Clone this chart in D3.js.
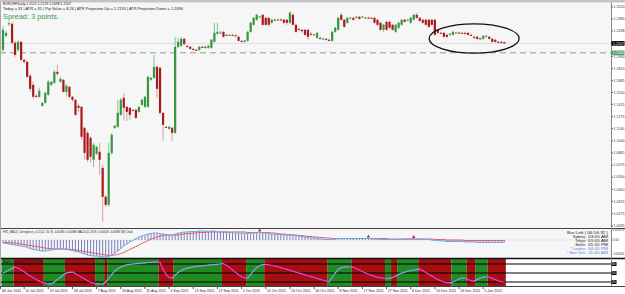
<!DOCTYPE html>
<html>
<head>
<meta charset="utf-8">
<script src="https://cdn.jsdelivr.net/npm/d3@7"></script>
<style>
  body { margin: 0; background: #fff; }
  svg { display: block; font-family: "Liberation Sans", Arial, sans-serif; }
</style>
</head>
<body>
<script>
// EURCHF daily bars, 30 Jun 2011 - 13 Jan 2012  [open, high, low, close]
const candles = [
  [1.2034,1.2306,1.2011,1.2261],[1.2193,1.2250,1.2170,1.2227],[1.2329,1.2352,1.2306,1.2335],[1.2329,1.2352,1.2091,1.2114],
  [1.2114,1.2136,1.1955,1.1977],[1.2034,1.2148,1.2011,1.2125],[1.2125,1.2136,1.1898,1.1921],[1.1921,1.1932,1.1875,1.1898],
  [1.1898,1.1909,1.1716,1.1728],[1.1739,1.1762,1.1557,1.1591],[1.1637,1.1671,1.1478,1.1501],[1.1512,1.1535,1.1489,1.1501],
  [1.1501,1.1603,1.1489,1.1569],[1.1398,1.1444,1.1387,1.1432],[1.1432,1.1557,1.1421,1.1546],[1.1523,1.1694,1.1512,1.1671],
  [1.1637,1.1682,1.1625,1.1671],[1.1659,1.1807,1.1648,1.1784],[1.1784,1.1864,1.1739,1.1762],[1.1671,1.1728,1.1659,1.1705],
  [1.1694,1.1705,1.1546,1.1557],[1.1557,1.1648,1.1512,1.1625],[1.1614,1.1625,1.1478,1.1501],[1.1501,1.1512,1.1444,1.1467],
  [1.1467,1.1478,1.1285,1.1296],[1.1398,1.1421,1.1330,1.1376],[1.1387,1.1398,1.1013,1.1047],[1.1149,1.1160,1.0786,1.0865],
  [1.1092,1.1115,1.0763,1.0786],[1.1035,1.1058,1.0752,1.0820],[1.0786,1.0979,1.0706,1.0956],[1.0854,1.0945,1.0842,1.0933],
  [1.0876,1.0979,1.0615,1.0786],[1.0695,1.0729,1.0082,1.0366],[1.0366,1.0388,1.0252,1.0275],[1.0275,1.0979,1.0252,1.0865],
  [1.0865,1.1092,1.0842,1.1069],[1.1149,1.1183,1.1138,1.1172],[1.1160,1.1467,1.1149,1.1319],[1.1296,1.1489,1.1285,1.1467],
  [1.1489,1.1546,1.1228,1.1376],[1.1387,1.1398,1.1228,1.1330],[1.1376,1.1387,1.1240,1.1296],[1.1353,1.1364,1.1330,1.1342],
  [1.1353,1.1364,1.1251,1.1262],[1.1330,1.1398,1.1319,1.1387],[1.1410,1.1478,1.1398,1.1467],[1.1387,1.1512,1.1376,1.1501],
  [1.1387,1.1739,1.1376,1.1728],[1.1694,1.1728,1.1682,1.1716],[1.1716,1.1977,1.1705,1.1841],[1.1841,1.1852,1.1489,1.1591],
  [1.1830,1.1841,1.1296,1.1319],[1.1319,1.1330,1.1001,1.1183],[1.1160,1.1172,1.1149,1.1155],[1.1138,1.1172,1.1126,1.1160],
  [1.1149,1.1160,1.1001,1.1092],[1.1092,1.2182,1.1081,1.2068],
  [1.2068,1.2170,1.2057,1.2125],[1.2079,1.2182,1.2068,1.2159],[1.2159,1.2170,1.2079,1.2102],[1.2079,1.2091,1.2057,1.2068],
  [1.2068,1.2079,1.2034,1.2045],[1.2045,1.2057,1.2023,1.2034],[1.2034,1.2045,1.2023,1.2028],[1.2034,1.2079,1.2023,1.2068],
  [1.2068,1.2079,1.2057,1.2062],[1.2068,1.2079,1.2045,1.2057],[1.2057,1.2091,1.2045,1.2079],[1.2057,1.2159,1.2045,1.2148],
  [1.2125,1.2341,1.2114,1.2227],[1.2216,1.2341,1.2204,1.2238],
  [1.2227,1.2250,1.2216,1.2230],[1.2238,1.2250,1.2170,1.2182],[1.2204,1.2216,1.2193,1.2200],[1.2200,1.2210,1.2190,1.2204],
  [1.2204,1.2216,1.2193,1.2198],[1.2198,1.2210,1.2182,1.2190],[1.2182,1.2193,1.2125,1.2136],[1.2136,1.2148,1.2114,1.2125],
  [1.2125,1.2148,1.2114,1.2140],[1.2136,1.2250,1.2125,1.2238],[1.2238,1.2352,1.2227,1.2341],[1.2318,1.2409,1.2306,1.2397],
  [1.2375,1.2443,1.2363,1.2431],[1.2409,1.2420,1.2397,1.2412],[1.2431,1.2443,1.2306,1.2318],[1.2397,1.2409,1.2306,1.2318],
  [1.2397,1.2409,1.2295,1.2318],[1.2341,1.2386,1.2329,1.2375],[1.2375,1.2386,1.2363,1.2372],[1.2372,1.2386,1.2363,1.2378],
  [1.2378,1.2390,1.2365,1.2375],[1.2375,1.2386,1.2329,1.2341],[1.2375,1.2386,1.2318,1.2341],[1.2341,1.2477,1.2329,1.2454],
  [1.2431,1.2454,1.2306,1.2318],[1.2318,1.2329,1.2227,1.2238],[1.2272,1.2284,1.2250,1.2265],[1.2261,1.2272,1.2227,1.2245],
  [1.2261,1.2272,1.2193,1.2204],[1.2261,1.2272,1.2148,1.2182],[1.2216,1.2238,1.2193,1.2210],[1.2204,1.2216,1.2193,1.2208],
  [1.2170,1.2238,1.2159,1.2227],[1.2170,1.2182,1.2148,1.2159],[1.2159,1.2170,1.2148,1.2162],[1.2159,1.2170,1.2136,1.2148],
  [1.2148,1.2159,1.2125,1.2136],[1.2136,1.2250,1.2125,1.2238],[1.2238,1.2295,1.2227,1.2284],[1.2261,1.2409,1.2250,1.2397],
  [1.2431,1.2454,1.2363,1.2375],[1.2375,1.2386,1.2284,1.2295],[1.2341,1.2409,1.2329,1.2397],[1.2397,1.2409,1.2386,1.2400],
  [1.2397,1.2409,1.2363,1.2375],[1.2397,1.2420,1.2386,1.2409],[1.2409,1.2420,1.2375,1.2386],[1.2409,1.2420,1.2397,1.2412],
  [1.2397,1.2409,1.2386,1.2400],[1.2400,1.2412,1.2386,1.2397],[1.2397,1.2409,1.2386,1.2395],[1.2397,1.2409,1.2329,1.2341],
  [1.2375,1.2386,1.2306,1.2318],[1.2341,1.2352,1.2250,1.2261],[1.2261,1.2329,1.2238,1.2318],[1.2352,1.2363,1.2250,1.2261],
  [1.2352,1.2363,1.2272,1.2284],[1.2318,1.2329,1.2250,1.2261],[1.2238,1.2329,1.2227,1.2318],[1.2284,1.2352,1.2272,1.2341],
  [1.2318,1.2386,1.2306,1.2375],[1.2375,1.2386,1.2341,1.2352],[1.2372,1.2386,1.2363,1.2375],[1.2341,1.2409,1.2329,1.2397],
  [1.2375,1.2443,1.2363,1.2431],[1.2431,1.2454,1.2386,1.2397],[1.2397,1.2409,1.2352,1.2363],[1.2375,1.2386,1.2329,1.2341],
  [1.2375,1.2386,1.2306,1.2318],[1.2375,1.2386,1.2284,1.2295],[1.2375,1.2386,1.2306,1.2318],[1.2375,1.2386,1.2193,1.2204],
  [1.2261,1.2272,1.2216,1.2227],[1.2227,1.2238,1.2216,1.2224],[1.2227,1.2238,1.2170,1.2182],[1.2204,1.2216,1.2170,1.2182],
  [1.2210,1.2227,1.2193,1.2216],[1.2204,1.2250,1.2193,1.2238],[1.2227,1.2238,1.2216,1.2230],[1.2230,1.2241,1.2216,1.2227],
  [1.2227,1.2238,1.2216,1.2224],[1.2227,1.2238,1.2204,1.2216],[1.2227,1.2238,1.2193,1.2204],[1.2204,1.2216,1.2193,1.2200],
  [1.2182,1.2193,1.2159,1.2170],[1.2182,1.2193,1.2148,1.2159],[1.2165,1.2176,1.2142,1.2155],[1.2159,1.2204,1.2148,1.2193],
  [1.2182,1.2204,1.2170,1.2193],[1.2182,1.2193,1.2148,1.2159],[1.2159,1.2170,1.2114,1.2125],[1.2148,1.2159,1.2114,1.2125],
  [1.2125,1.2136,1.2114,1.2120],[1.2125,1.2136,1.2102,1.2114],[1.2121,1.2129,1.2098,1.2107]
];

// MACD main (histogram + blue line) and signal (red line)
const macdMain = [
  -0.0070,-0.0081,-0.0093,-0.0104,-0.0116,-0.0128,-0.0139,-0.0151,-0.0174,-0.0197,
  -0.0220,-0.0232,-0.0244,-0.0255,-0.0255,-0.0244,-0.0232,-0.0220,-0.0209,-0.0209,
  -0.0209,-0.0220,-0.0232,-0.0244,-0.0267,-0.0278,-0.0302,-0.0325,-0.0348,-0.0360,
  -0.0371,-0.0371,-0.0383,-0.0394,-0.0394,-0.0383,-0.0348,-0.0302,-0.0255,-0.0197,
  -0.0139,-0.0093,-0.0046,-0.0012,0.0035,0.0070,0.0093,0.0116,0.0139,0.0151,
  0.0162,0.0162,0.0151,0.0139,0.0128,0.0116,0.0104,0.0139,0.0162,0.0174,
  0.0186,0.0186,0.0197,0.0197,0.0197,0.0209,0.0209,0.0209,0.0197,0.0209,
  0.0209,0.0186,0.0186,0.0186,0.0186,0.0174,0.0174,0.0162,0.0162,0.0162,
  0.0151,0.0151,0.0162,0.0162,0.0174,0.0174,0.0162,0.0162,0.0151,0.0139,
  0.0139,0.0128,0.0128,0.0116,0.0116,0.0116,0.0116,0.0104,0.0093,0.0081,
  0.0070,0.0058,0.0046,0.0046,0.0035,0.0023,0.0023,0.0012,0.0012,0.0012,
  0.0023,0.0035,0.0035,0.0035,0.0035,0.0035,0.0035,0.0035,0.0035,0.0035,
  0.0035,0.0035,0.0035,0.0023,0.0023,0.0012,0.0012,0.0012,0.0012,0.0012,
  0.0012,0.0012,0.0012,0.0023,0.0023,0.0023,0.0023,0.0023,0.0023,0.0023,
  0.0012,0.0012,0.0000,-0.0012,-0.0012,-0.0023,-0.0023,-0.0035,-0.0035,-0.0035,
  -0.0035,-0.0035,-0.0035,-0.0046,-0.0046,-0.0046,-0.0046,-0.0058,-0.0058,-0.0058,
  -0.0058,-0.0058,-0.0058,-0.0058,-0.0058,-0.0058,-0.0058
];
const macdSignal = [
  -0.0046,-0.0058,-0.0058,-0.0070,-0.0070,-0.0081,-0.0093,-0.0104,-0.0116,-0.0128,
  -0.0139,-0.0151,-0.0162,-0.0174,-0.0186,-0.0197,-0.0197,-0.0209,-0.0209,-0.0209,
  -0.0209,-0.0209,-0.0220,-0.0220,-0.0232,-0.0244,-0.0255,-0.0267,-0.0278,-0.0290,
  -0.0302,-0.0313,-0.0325,-0.0336,-0.0348,-0.0355,-0.0355,-0.0348,-0.0336,-0.0313,
  -0.0290,-0.0255,-0.0220,-0.0186,-0.0151,-0.0116,-0.0081,-0.0046,-0.0012,0.0023,
  0.0046,0.0070,0.0093,0.0104,0.0116,0.0116,0.0116,0.0116,0.0116,0.0128,
  0.0139,0.0151,0.0151,0.0162,0.0162,0.0174,0.0174,0.0174,0.0186,0.0186,
  0.0186,0.0186,0.0186,0.0186,0.0186,0.0186,0.0186,0.0186,0.0186,0.0186,
  0.0186,0.0174,0.0174,0.0174,0.0174,0.0174,0.0174,0.0174,0.0174,0.0162,
  0.0162,0.0151,0.0139,0.0139,0.0128,0.0128,0.0116,0.0116,0.0104,0.0104,
  0.0093,0.0081,0.0081,0.0070,0.0070,0.0058,0.0058,0.0046,0.0046,0.0035,
  0.0035,0.0035,0.0035,0.0035,0.0035,0.0035,0.0035,0.0035,0.0035,0.0035,
  0.0035,0.0035,0.0035,0.0035,0.0035,0.0035,0.0035,0.0035,0.0023,0.0023,
  0.0023,0.0023,0.0023,0.0023,0.0023,0.0023,0.0023,0.0023,0.0023,0.0023,
  0.0023,0.0023,0.0023,0.0012,0.0012,0.0012,0.0012,0.0000,0.0000,0.0000,
  0.0000,0.0000,0.0000,-0.0012,-0.0012,-0.0012,-0.0012,-0.0012,-0.0012,-0.0012,
  -0.0012,-0.0012,-0.0012,-0.0012,-0.0012,-0.0012,-0.0012
];
const divergenceBars = [85, 121, 136];

// lower oscillator (0-100) and its coloured state blocks
const oscValues = [
  50,54,60,66,70,66,60,54,47,40, 34,28,23,19,16,14,14,20,28,36,
  44,50,52,53,48,42,36,30,24,19, 16,14,14,13,20,32,45,56,64,70,
  74,77,79,80,81,82,83,84,85,85, 86,86,85,62,45,35,33,42,52,58,
  63,66,68,70,72,73,74,75,76,77, 78,79,80,81,76,68,60,52,44,38,
  34,33,45,58,68,75,78,79,77,75, 73,71,68,65,62,59,56,53,50,47,
  44,41,38,35,32,29,26,23,20,35, 50,62,68,70,70,70,69,65,60,55,
  50,46,42,39,36,34,33,31,32,35, 40,45,50,53,56,58,60,62,63,58,
  52,46,40,34,28,24,20,18,17,20, 25,30,33,33,28,24,23,28,33,36,
  37,36,32,28,24,21,20
];
const oscLevels = [80, 50, 20];
const bandStarts = [0,4,14,21,31,34,35,52,57,73,81,87,108,116,127,129,131,138,149,154,157,161];
const bandStates = ["up","down","up","down","up","down","up","down","up","down","up",
                    "down","up","down","up","down","up","down","up","down","up","down"];

// axes
const priceTicks = [1.2520,1.2385,1.2248,1.2110,1.1960,1.1820,1.1685,1.1550,1.1415,1.1275,
                    1.1140,1.1000,1.0865,1.0725,1.0590,1.0450,1.0315,1.0175,1.0035];
const dateBars = [-1,7,15,23,31,39,47,55,63,71,79,87,95,103,111,119,127,135,143,151,159];
const dateLabels = ["30 Jun 2011","10 Jul 2011","19 Jul 2011","28 Jul 2011","7 Aug 2011","16 Aug 2011",
  "25 Aug 2011","4 Sep 2011","13 Sep 2011","22 Sep 2011","2 Oct 2011","11 Oct 2011","20 Oct 2011",
  "30 Oct 2011","8 Nov 2011","17 Nov 2011","27 Nov 2011","6 Dec 2011","15 Dec 2011","26 Dec 2011","5 Jan 2012"];
const macdTicks = [0.0232, 0, -0.0320];
const macdTickLabels = ["0.023170", "0.00", "-0.032040"];

const floorPrice = 1.2000;
const ellipseBars = [141.1, 170.9];
const ellipsePrices = [1.2329, 1.1997];

const clockRows = [["Sydney:", "03:05 AM"], ["Tokyo:", "01:05 AM"], ["Berlin:", "05:05 PM"],
                   ["* London:", "04:05 PM"], ["* New York:", "11:05 AM"]];

// ---- layout
const W = 625, H = 294, axisX = 611;
const mainTop = 3, mainBottom = 228, macdTop = 229, macdBottom = 258, oscTop = 259, oscBottom = 286;

const svg = d3.select("body").append("svg").attr("width", W).attr("height", H);

const x = d3.scaleLinear().domain([0, candles.length - 1]).range([3, 3 + 3.02 * (candles.length - 1)]);
const step = x(1) - x(0);
const y = d3.scaleLinear().domain([1.0035, 1.2520]).range([226, 7]);
const yMacd = d3.scaleLinear().domain([-0.0394, 0.0232]).range([257, 230]);
const yOsc = d3.scaleLinear().domain([0, 100]).range([288, 258]);

// backgrounds
svg.append("rect").attr("width", W).attr("height", H).attr("fill", "#ffffff");
svg.append("rect").attr("x", 0).attr("y", 0).attr("width", W).attr("height", 2.5).attr("fill", "#c4c4c4");
svg.append("rect").attr("x", 0).attr("y", mainTop).attr("width", axisX).attr("height", mainBottom - mainTop).attr("fill", "#f6f6f6");
svg.append("rect").attr("x", 0).attr("y", macdTop).attr("width", axisX).attr("height", macdBottom - macdTop).attr("fill", "#f6f6f6");

svg.append("clipPath").attr("id", "mainClip").append("rect")
  .attr("x", 0).attr("y", mainTop).attr("width", axisX).attr("height", mainBottom - mainTop);
const main = svg.append("g").attr("clip-path", "url(#mainClip)");

const last = candles[candles.length - 1];

// bid line
main.append("line").attr("x1", 0).attr("x2", axisX).attr("y1", y(last[3])).attr("y2", y(last[3]))
  .attr("stroke", "#dedede").attr("stroke-width", 1);

// 1.2000 floor line
main.append("line").attr("x1", 0).attr("x2", axisX).attr("y1", y(floorPrice)).attr("y2", y(floorPrice))
  .attr("stroke", "#72ad82").attr("stroke-width", 1).attr("stroke-dasharray", "6,4");

// candles
const bars = main.selectAll("g.bar").data(candles).enter().append("g").attr("class", "bar");
bars.append("line")
  .attr("x1", (d, i) => x(i)).attr("x2", (d, i) => x(i))
  .attr("y1", d => y(d[1])).attr("y2", d => y(d[2]))
  .attr("stroke", d => d[3] >= d[0] ? "#86c48c" : "#d9a0a0").attr("stroke-width", 1);
bars.append("rect")
  .attr("x", (d, i) => x(i) - 1.1).attr("width", 2.2)
  .attr("y", d => y(Math.max(d[0], d[3])))
  .attr("height", d => Math.max(1, Math.abs(y(d[0]) - y(d[3]))))
  .attr("fill", d => d[3] >= d[0] ? "#35963f" : "#a8191c");

// ellipse annotation
main.append("ellipse")
  .attr("cx", (x(ellipseBars[0]) + x(ellipseBars[1])) / 2)
  .attr("cy", (y(ellipsePrices[0]) + y(ellipsePrices[1])) / 2)
  .attr("rx", (x(ellipseBars[1]) - x(ellipseBars[0])) / 2)
  .attr("ry", (y(ellipsePrices[1]) - y(ellipsePrices[0])) / 2)
  .attr("fill", "none").attr("stroke", "#111").attr("stroke-width", 1.3);

// header texts
svg.append("text").attr("x", 3).attr("y", 5.2).attr("font-size", 3.8).attr("fill", "#222")
  .attr("textLength", 68).attr("lengthAdjust", "spacingAndGlyphs")
  .text("EURCHF,Daily  1.2121 1.2129 1.2098 1.2107");
svg.append("text").attr("x", 3).attr("y", 9.6).attr("font-size", 3.8).attr("fill", "#222")
  .attr("textLength", 180).attr("lengthAdjust", "spacingAndGlyphs")
  .text("Today = 31   |   ATR = 35   |   Pip Value = 8.26   |   ATR Projection Up = 1.2133   |   ATR Projection Down = 1.2096");
svg.append("text").attr("x", 3).attr("y", 18.5).attr("font-size", 8).attr("fill", "#3c9a4c")
  .attr("textLength", 56).attr("lengthAdjust", "spacingAndGlyphs")
  .text("Spread: 3 points.");

// ---- MACD window
const macdG = svg.append("g");
macdG.append("line").attr("x1", 0).attr("x2", axisX).attr("y1", yMacd(0)).attr("y2", yMacd(0))
  .attr("stroke", "#d0d0d0").attr("stroke-width", 0.5);
macdG.selectAll("line.hist").data(macdMain).enter().append("line").attr("class", "hist")
  .attr("x1", (d, i) => x(i)).attr("x2", (d, i) => x(i))
  .attr("y1", yMacd(0)).attr("y2", d => yMacd(d))
  .attr("stroke", "#7d7dbd").attr("stroke-width", 1);
macdG.append("path").datum(macdSignal)
  .attr("fill", "none").attr("stroke", "#e0606e").attr("stroke-width", 1)
  .attr("d", d3.line().x((d, i) => x(i)).y(d => yMacd(d)));
macdG.append("path").datum(macdMain)
  .attr("fill", "none").attr("stroke", "#6fa7e6").attr("stroke-width", 1)
  .attr("d", d3.line().x((d, i) => x(i)).y(d => yMacd(d)));
macdG.selectAll("path.div").data(divergenceBars).enter().append("path").attr("class", "div")
  .attr("d", d3.symbol().type(d3.symbolTriangle).size(5))
  .attr("transform", b => `translate(${x(b)},${yMacd(Math.max(macdMain[b], macdSignal[b])) - 2})`)
  .attr("fill", "#d42020");
macdG.append("text").attr("x", 3).attr("y", 233.2).attr("font-size", 3.7).attr("fill", "#222")
  .attr("textLength", 130).attr("lengthAdjust", "spacingAndGlyphs")
  .text("FX5_MACD_Divergence_v1.1(12, 26, 9) -0.00480 -0.00386  MACD(12,26,9) -0.00418 -0.00387  (M) Clock");

// clock
macdG.append("text").attr("x", 567).attr("y", 233.6).attr("font-size", 3.7).attr("fill", "#222")
  .attr("textLength", 41).attr("lengthAdjust", "spacingAndGlyphs").text("Bar Left  |  06:54:32  |");
clockRows.forEach((r, k) => {
  const col = k >= 3 ? "#5a7fd8" : "#222";
  macdG.append("text").attr("x", 586).attr("y", 237.8 + k * 4.1).attr("font-size", 3.7)
    .attr("text-anchor", "end").attr("fill", col).text(r[0]);
  macdG.append("text").attr("x", 588).attr("y", 237.8 + k * 4.1).attr("font-size", 3.7)
    .attr("fill", col).attr("textLength", 20).attr("lengthAdjust", "spacingAndGlyphs").text(r[1]);
});

// ---- oscillator window
const oscG = svg.append("g");
bandStarts.forEach((s, k) => {
  const e = k + 1 < bandStarts.length ? bandStarts[k + 1] : candles.length;
  oscG.append("rect")
    .attr("x", x(s) - step / 2).attr("width", x(e) - x(s))
    .attr("y", oscTop).attr("height", oscBottom - oscTop)
    .attr("fill", bandStates[k] === "up" ? "#1f8b22" : "#a50f10");
});
oscG.selectAll("line.lvl").data(oscLevels).enter().append("line").attr("class", "lvl")
  .attr("x1", 0).attr("x2", axisX).attr("y1", d => yOsc(d)).attr("y2", d => yOsc(d))
  .attr("stroke", "#000").attr("stroke-width", 1.1);
for (let i = 1; i < oscValues.length; i++) {
  oscG.append("line")
    .attr("x1", x(i - 1)).attr("y1", yOsc(oscValues[i - 1]))
    .attr("x2", x(i)).attr("y2", yOsc(oscValues[i]))
    .attr("stroke", oscValues[i] >= oscValues[i - 1] ? "#8b9fe6" : "#e23fd8")
    .attr("stroke-width", 1.2).attr("stroke-linecap", "round");
}
oscG.append("text").attr("x", 3).attr("y", 262.6).attr("font-size", 3.4).attr("fill", "#111")
  .attr("textLength", 40).attr("lengthAdjust", "spacingAndGlyphs").text("Stoch_Color(8,3,3) 20.13 24.06");

// window separators
[[mainBottom + 0.5, "#444", 1], [macdBottom + 0.5, "#111", 1.3], [oscBottom + 0.5, "#444", 1]].forEach(s => {
  svg.append("line").attr("x1", 0).attr("x2", W).attr("y1", s[0]).attr("y2", s[0])
    .attr("stroke", s[1]).attr("stroke-width", s[2]);
});

// ---- right price axis
svg.append("line").attr("x1", axisX + 0.5).attr("x2", axisX + 0.5).attr("y1", 2.5).attr("y2", oscBottom)
  .attr("stroke", "#8a8a8a").attr("stroke-width", 1);
svg.append("line").attr("x1", 0.5).attr("x2", 0.5).attr("y1", 2.5).attr("y2", oscBottom)
  .attr("stroke", "#a8a8a8").attr("stroke-width", 1);

const axisG = svg.append("g");
priceTicks.forEach(t => {
  axisG.append("line").attr("x1", axisX).attr("x2", axisX + 2).attr("y1", y(t)).attr("y2", y(t)).attr("stroke", "#666");
  axisG.append("text").attr("x", axisX + 2.5).attr("y", y(t) + 1.3).attr("font-size", 3.6).attr("fill", "#333")
    .text(t.toFixed(4));
});
macdTicks.forEach((t, k) => {
  const lbl = macdTickLabels[k];
  axisG.append("text")
    .attr("x", axisX + 1.6).attr("y", yMacd(t) + 1)
    .attr("font-size", lbl.length > 8 ? 2.55 : (lbl.length > 4 ? 2.75 : 3.2)).attr("fill", "#333")
    .text(lbl);
});

// floor price marker and last price marker
axisG.append("rect").attr("x", axisX + 0.5).attr("y", y(floorPrice) - 2.3).attr("width", 13).attr("height", 4.6).attr("fill", "#4f9d62");
axisG.append("text").attr("x", axisX + 2).attr("y", y(floorPrice) + 1.3).attr("font-size", 3.6).attr("fill", "#fff").text(floorPrice.toFixed(4));
axisG.append("rect").attr("x", axisX + 0.5).attr("y", y(last[3]) - 2.3).attr("width", 13).attr("height", 4.6).attr("fill", "#000");
axisG.append("text").attr("x", axisX + 2).attr("y", y(last[3]) + 1.3).attr("font-size", 3.6).attr("fill", "#fff").text(last[3].toFixed(4));

// oscillator level markers
oscLevels.forEach(l => {
  axisG.append("rect").attr("x", axisX + 0.5).attr("y", yOsc(l) - 2).attr("width", 5).attr("height", 4).attr("fill", "#000");
  axisG.append("text").attr("x", axisX + 1).attr("y", yOsc(l) + 1.2).attr("font-size", 3.2).attr("fill", "#fff").text(l);
});

// ---- date axis
dateBars.forEach((b, k) => {
  const xx = Math.max(0.5, x(b));
  svg.append("line").attr("x1", xx).attr("x2", xx).attr("y1", oscBottom).attr("y2", oscBottom + 3).attr("stroke", "#555");
  svg.append("text").attr("x", xx + 1.2).attr("y", 292.2).attr("font-size", 3.6).attr("fill", "#222")
    .text(dateLabels[k]);
});
</script>
</body>
</html>
